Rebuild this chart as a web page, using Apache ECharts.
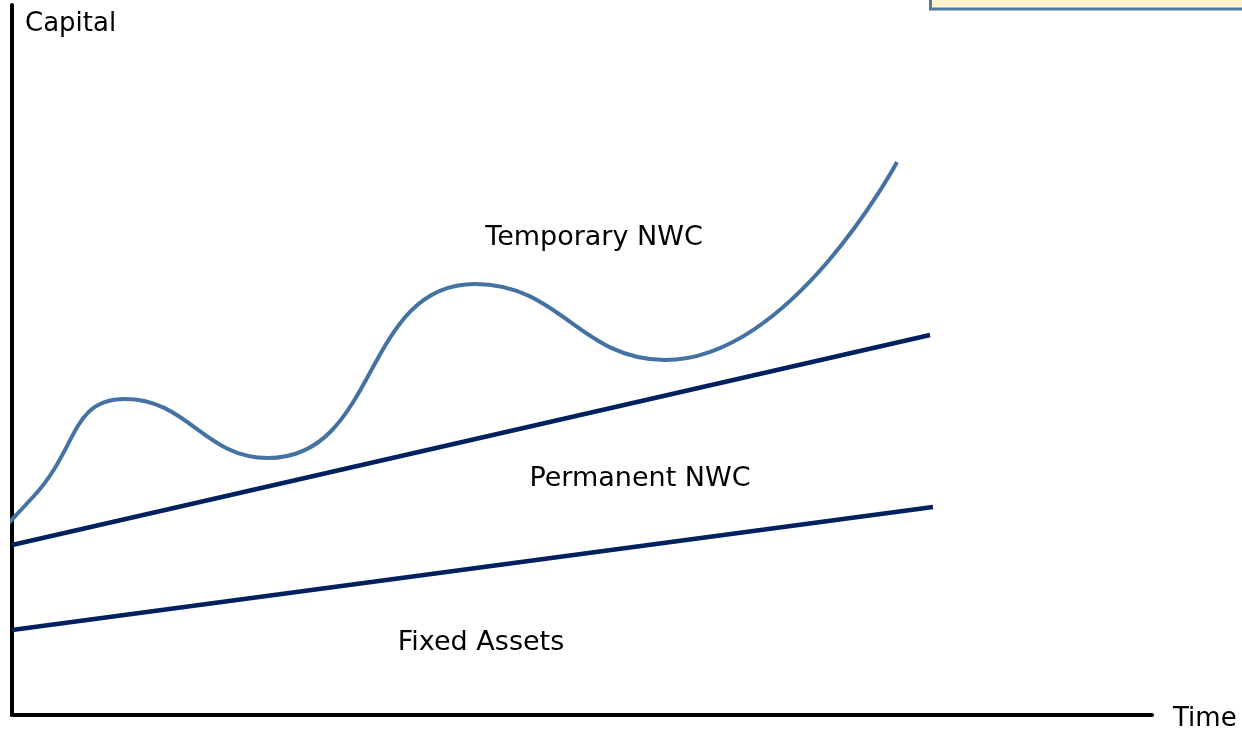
<!DOCTYPE html>
<html>
<head>
<meta charset="utf-8">
<script src="https://cdn.jsdelivr.net/npm/echarts@6/dist/echarts.min.js"></script>
<style>html,body{margin:0;padding:0;background:#fff;}#c{width:1242px;height:730px;}</style>
</head>
<body>
<div id="c"></div>
<script>
// Conceptual chart: Capital vs Time
var temporaryNWC = [[-4,191],[21,218],[113,316],[256,257],[463,431],[653,355],[885,553]];
var permanentNWC = [[0,170],[918,380]];
var fixedAssets = [[0,85],[921,208]];
var labelNames = ['Temporary NWC', 'Permanent NWC', 'Fixed Assets'];
var labelX = [582, 628, 469];
var labelY = [477, 236, 72];
var axisNames = {x:'Time', y:'Capital'};

var font = 'DejaVu Sans';
var labelData = labelNames.map(function(n, i){ return [labelX[i], labelY[i], n]; });
var chart = echarts.init(document.getElementById('c'), null, {renderer:'canvas'});
chart.setOption({
  animation:false,
  backgroundColor:'#fff',
  grid:{left:12, right:90, top:5, bottom:15, containLabel:false, outerBoundsMode:'none'},
  xAxis:{type:'value', min:0, max:1140,
    name:axisNames.x, nameLocation:'end', nameGap:21,
    nameTextStyle:{color:'#000', fontSize:26, fontFamily:font, verticalAlign:'top', lineHeight:8},
    axisLine:{show:true, onZero:false, lineStyle:{color:'#000', width:4}},
    axisTick:{show:false}, axisLabel:{show:false}, splitLine:{show:false}},
  yAxis:{type:'value', min:0, max:710,
    name:axisNames.y, nameLocation:'end', nameGap:-19,
    nameTextStyle:{color:'#000', fontSize:26, fontFamily:font, align:'left', verticalAlign:'middle', padding:[0,0,0,13]},
    axisLine:{show:true, onZero:false, lineStyle:{color:'#000', width:4}},
    axisTick:{show:false}, axisLabel:{show:false}, splitLine:{show:false}},
  graphic:[{type:'rect', shape:{x:930.5, y:-10, width:330, height:19},
    style:{fill:'#FFF2CC', stroke:'#4F7BAA', lineWidth:3}}],
  series:[
    {type:'line', data:temporaryNWC, smooth:0.5, symbol:'none', clip:false,
      lineStyle:{color:'#4472A2', width:4}},
    {type:'line', data:permanentNWC, symbol:'none', clip:false,
      lineStyle:{color:'#002060', width:4.5}},
    {type:'line', data:fixedAssets, symbol:'none', clip:false,
      lineStyle:{color:'#002060', width:4.5}},
    {type:'scatter', data:labelData, symbolSize:1, itemStyle:{color:'rgba(0,0,0,0)', opacity:1},
      label:{show:true, position:'inside', formatter:function(p){return p.value[2];},
        color:'#000', opacity:1, fontSize:27, fontFamily:font}}
  ]
});
</script>
</body>
</html>
